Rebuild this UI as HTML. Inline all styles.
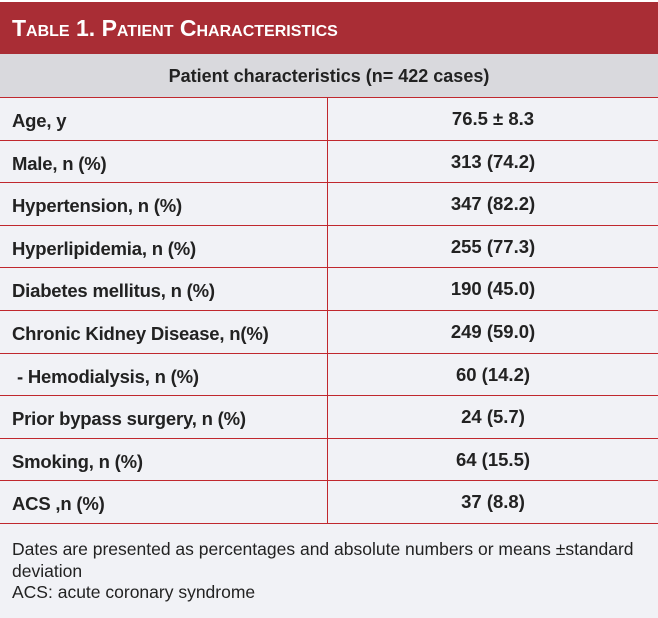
<!DOCTYPE html>
<html><head><meta charset="utf-8"><style>
body{margin:0;width:658px;height:618px;background:#fff;font-family:"Liberation Sans",sans-serif;overflow:hidden;position:relative}
.red{position:absolute;left:0;top:2px;width:658px;height:52px;background:#a92d35;color:#fff;font-weight:bold;font-size:23px;font-variant:small-caps;line-height:52px;padding-left:12px;box-sizing:border-box}
.gray{position:absolute;left:0;top:54px;width:658px;height:44px;background:#d9d9dd;border-bottom:1px solid #c0282e;box-sizing:border-box;text-align:center;line-height:44px;font-weight:bold;font-size:18px;color:#222}
.row{position:absolute;left:0;width:658px;height:42.6px;background:#f1f2f6;border-bottom:1px solid #c0282e;box-sizing:border-box;font-weight:bold;font-size:18.5px;color:#222;line-height:42px}
.row .l{position:absolute;left:12px;top:2px;letter-spacing:-0.2px}
.row .r{position:absolute;left:327px;width:331px;text-align:center;top:0;height:100%;border-left:1.5px solid #c0282e;box-sizing:border-box}
.row .r span{position:relative;top:0px}
.foot{position:absolute;left:0;top:524px;width:658px;height:94px;background:#f1f2f6;padding:15px 12px;box-sizing:border-box;font-size:17.5px;line-height:21.5px;color:#222}
</style></head><body>
<div class="red">Table 1. Patient Characteristics</div>
<div class="gray">Patient characteristics (n= 422 cases)</div>
<div class="row" style="top:98px"><span class="l">Age, y</span><span class="r"><span>76.5 ± 8.3</span></span></div>
<div class="row" style="top:140.6px"><span class="l">Male, n (%)</span><span class="r"><span>313 (74.2)</span></span></div>
<div class="row" style="top:183.2px"><span class="l">Hypertension, n (%)</span><span class="r"><span>347 (82.2)</span></span></div>
<div class="row" style="top:225.8px"><span class="l">Hyperlipidemia, n (%)</span><span class="r"><span>255 (77.3)</span></span></div>
<div class="row" style="top:268.4px"><span class="l">Diabetes mellitus, n (%)</span><span class="r"><span>190 (45.0)</span></span></div>
<div class="row" style="top:311px"><span class="l">Chronic Kidney Disease, n(%)</span><span class="r"><span>249 (59.0)</span></span></div>
<div class="row" style="top:353.6px"><span class="l">&nbsp;- Hemodialysis, n (%)</span><span class="r"><span>60 (14.2)</span></span></div>
<div class="row" style="top:396.2px"><span class="l">Prior bypass surgery, n (%)</span><span class="r"><span>24 (5.7)</span></span></div>
<div class="row" style="top:438.8px"><span class="l">Smoking, n (%)</span><span class="r"><span>64 (15.5)</span></span></div>
<div class="row" style="top:481.4px"><span class="l">ACS ,n (%)</span><span class="r"><span>37 (8.8)</span></span></div>
<div class="foot">Dates are presented as percentages and absolute numbers or means ±standard deviation<br>ACS: acute coronary syndrome</div>
</body></html>
